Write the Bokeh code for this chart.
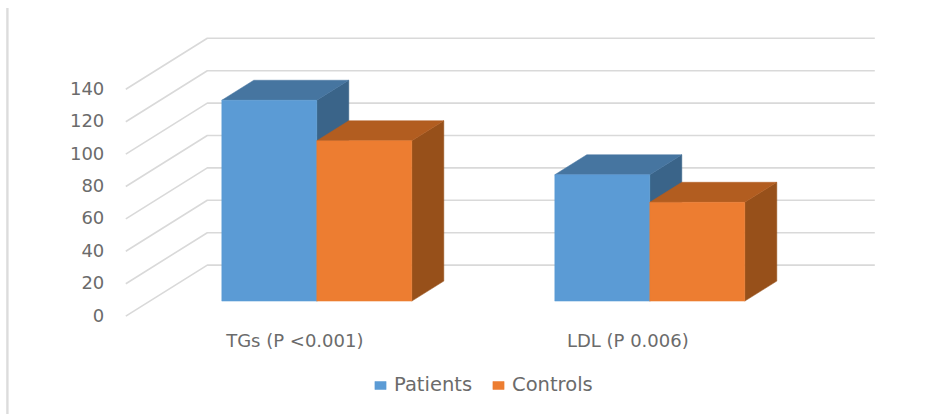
from bokeh.embed import file_html
from bokeh.resources import INLINE
from bokeh.models import Legend, LegendItem, Range1d
from bokeh.plotting import figure
from bokeh.core.properties import value

# Mean lipid values per group
categories = ["TGs (P <0.001)", "LDL (P 0.006)"]
patients = [124, 78]
controls = [99, 61]
y_ticks = [0, 20, 40, 60, 80, 100, 120, 140]

W, H = 938, 414
FONT = "DejaVu Sans"
TEXT = "#6b6b6b"
GRID = "#d9d9d9"

# Screen scale of the two data axes
UNIT_X = 333.0        # pixels between the two category groups
UNIT_Y = 1.62         # pixels per unit of the value axis
ORIGIN_X = 317.0      # pixel column of the first group's centre
ORIGIN_Y = 301.0      # pixel row of value 0 on the bars' front plane
NUDGE_X = 0.7         # sub-pixel alignment of the whole plot area
NUDGE_Y = 0.4


def sx(px):
    return px / UNIT_X


def sy(px):
    return px / UNIT_Y


p = figure(
    width=W, height=H, output_backend="svg", toolbar_location=None,
    x_range=Range1d(-(ORIGIN_X - NUDGE_X) / UNIT_X, (W - ORIGIN_X + NUDGE_X) / UNIT_X),
    y_range=Range1d(-(H - ORIGIN_Y + NUDGE_Y) / UNIT_Y, (ORIGIN_Y - NUDGE_Y) / UNIT_Y),
    min_border=0, outline_line_color=None,
)
p.axis.visible = False
p.grid.visible = False

# Border on the left of the chart area
edge_x = sx(7.6 - ORIGIN_X)
p.line([edge_x, edge_x], [sy(301 - 8), sy(301 - 416)], line_color="#dcdcdc", line_width=2.4)

# Perspective box: floor front is lower than the bar plane, the back wall further up
front_x = sx(126 - ORIGIN_X)
wall_x = sx(207.5 - ORIGIN_X)
end_x = sx(875 - ORIGIN_X)
front_drop = sy(316 - ORIGIN_Y)
wall_rise = sy(ORIGIN_Y - 265)

for t in y_ticks:
    p.line([front_x, wall_x, end_x],
           [t - front_drop, t + wall_rise, t + wall_rise],
           line_color=GRID, line_width=1.6)

p.text([sx(104.5 - ORIGIN_X)] * len(y_ticks), [t - front_drop for t in y_ticks],
       text=[str(t) for t in y_ticks], text_font=value(FONT), text_font_size="18px",
       text_color=TEXT, text_align="right", text_baseline="middle", y_offset=-1)

# Bars: front face plus shaded top and side faces
BAR_W = sx(95)
DEPTH_X = sx(32)
DEPTH_Y = sy(20)
series = [
    ("Patients", patients, -1, "#5b9bd5", "#4675a0", "#3a6489"),
    ("Controls", controls, 0, "#ed7d31", "#b25d20", "#97501a"),
]
legend_items = []
for name, vals, shift, front, top, side in series:
    x0 = [i + shift * BAR_W for i in range(len(vals))]
    x1 = [a + BAR_W for a in x0]
    p.patches(
        [[b, b + DEPTH_X, b + DEPTH_X, b] for b in x1],
        [[0, DEPTH_Y, v + DEPTH_Y, v] for v in vals],
        fill_color=side, line_color=side, line_width=0.5,
    )
    p.patches(
        [[a, a + DEPTH_X, b + DEPTH_X, b] for a, b in zip(x0, x1)],
        [[v, v + DEPTH_Y, v + DEPTH_Y, v] for v in vals],
        fill_color=top, line_color=top, line_width=0.5,
    )
    r = p.quad(left=x0, right=x1, bottom=0, top=vals,
               fill_color=front, line_color=front, line_width=0.5)
    legend_items.append(LegendItem(label=name, renderers=[r]))

# Category labels under each group
p.text(list(range(len(categories))), [sy(301 - 340)] * len(categories),
       text=categories, text_font=value(FONT), text_font_size="18px",
       text_color=TEXT, text_align="center", text_baseline="middle",
       x_offset=-22)

legend = Legend(
    items=legend_items, orientation="horizontal", location=(368, 13),
    glyph_width=14, glyph_height=10, label_standoff=7, spacing=19, padding=5,
    margin=0, border_line_alpha=0, background_fill_alpha=0,
    label_text_font=FONT, label_text_font_size="19.5px", label_text_color=TEXT,
)
p.add_layout(legend, "center")

open("out.html", "w").write(file_html(p, INLINE))
